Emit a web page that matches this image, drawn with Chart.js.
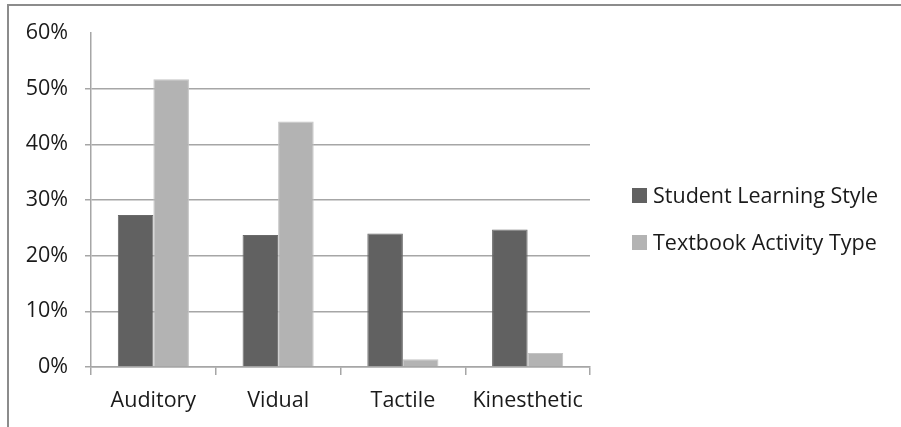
<!DOCTYPE html>
<html>
<head>
<meta charset="utf-8">
<script src="https://cdn.jsdelivr.net/npm/chart.js@4/dist/chart.umd.min.js"></script>
<style>
  html, body { margin: 0; padding: 0; background: #ffffff; }
  #wrap { width: 901px; height: 427px; position: relative; }
  canvas { display: block; }
</style>
</head>
<body>
<div id="wrap"><canvas id="chart" width="901" height="427"></canvas></div>
<script>
// Learning style categories
const categories = ['Auditory', 'Vidual', 'Tactile', 'Kinesthetic'];
// Share of students preferring each style (%)
const studentLearningStyle = [27.3, 23.7, 24.0, 24.7];
// Share of textbook activities of each type (%)
const textbookActivityType = [51.7, 44.1, 1.4, 2.5];
// Value axis ticks (%)
const yTicks = [0, 10, 20, 30, 40, 50, 60];

const seriesNames = ['Student Learning Style', 'Textbook Activity Type'];
const FONT = '"Open Sans", "Liberation Sans", sans-serif';
const FONT_SIZE = 21.5;
const TEXT = '#1a1a1a';
const GRID = '#a6a6a6';

// White background plus the frame lines along the top and left edges
const framePlugin = {
  id: 'frame',
  beforeDraw(chart) {
    const ctx = chart.ctx;
    ctx.save();
    ctx.fillStyle = '#ffffff';
    ctx.fillRect(0, 0, chart.width, chart.height);
    ctx.strokeStyle = '#8c8c8c';
    ctx.lineWidth = 2;
    ctx.beginPath();
    ctx.moveTo(7, 5);
    ctx.lineTo(chart.width, 5);
    ctx.moveTo(8, 4);
    ctx.lineTo(8, chart.height);
    ctx.stroke();
    ctx.restore();
  }
};

// Legend drawn to the right of the plot area from the dataset labels/colours
const sideLegend = {
  id: 'sideLegend',
  afterDraw(chart) {
    const ctx = chart.ctx;
    const area = chart.chartArea;
    const x0 = area.right + 42;
    const firstY = 195.5;
    const step = 47;
    const box = 15;
    ctx.save();
    ctx.font = FONT_SIZE + 'px ' + FONT;
    ctx.textBaseline = 'middle';
    ctx.textAlign = 'left';
    chart.data.datasets.forEach((ds, i) => {
      const cy = firstY + i * step;
      ctx.fillStyle = ds.backgroundColor;
      ctx.fillRect(x0, cy - box / 2, box, box);
      ctx.fillStyle = TEXT;
      ctx.fillText(ds.label, x0 + box + 6, cy + 1);
    });
    ctx.restore();
  }
};

new Chart(document.getElementById('chart'), {
  type: 'bar',
  data: {
    labels: categories,
    datasets: [
      {
        label: seriesNames[0],
        data: studentLearningStyle,
        backgroundColor: '#616161',
        borderColor: '#6a6a6a',
        borderWidth: 1,
        categoryPercentage: 0.57,
        barPercentage: 1.0
      },
      {
        label: seriesNames[1],
        data: textbookActivityType,
        backgroundColor: '#b3b3b3',
        borderColor: '#c4c4c4',
        borderWidth: 1,
        categoryPercentage: 0.57,
        barPercentage: 1.0
      }
    ]
  },
  options: {
    responsive: false,
    animation: false,
    devicePixelRatio: 1,
    layout: { padding: { left: 0, right: 311, top: 33, bottom: 0 } },
    plugins: {
      legend: { display: false },
      tooltip: { enabled: false }
    },
    scales: {
      x: {
        offset: true,
        grid: {
          offset: true,
          drawOnChartArea: false,
          drawTicks: true,
          tickLength: 8,
          color: GRID,
          lineWidth: 1.5
        },
        border: { display: true, color: GRID, width: 1.5 },
        ticks: {
          color: TEXT,
          font: { family: FONT, size: FONT_SIZE },
          padding: 13
        },
        afterFit(scale) { scale.height = 60; }
      },
      y: {
        min: yTicks[0],
        max: yTicks[yTicks.length - 1],
        afterBuildTicks(scale) {
          scale.ticks = yTicks.map(v => ({ value: v }));
        },
        grid: {
          drawTicks: true,
          tickLength: 6,
          lineWidth: 1.5,
          color: ctx => (ctx.tick && ctx.tick.value === yTicks[yTicks.length - 1]) ? 'rgba(0,0,0,0)' : GRID,
          tickColor: ctx => (ctx.tick && ctx.tick.value === yTicks[yTicks.length - 1]) ? 'rgba(0,0,0,0)' : GRID
        },
        border: { display: true, color: GRID, width: 1.5 },
        ticks: {
          color: TEXT,
          font: { family: FONT, size: FONT_SIZE },
          padding: 17,
          callback: v => v + '%'
        },
        afterFit(scale) { scale.width = 91; }
      }
    }
  },
  plugins: [framePlugin, sideLegend]
});
</script>
</body>
</html>
